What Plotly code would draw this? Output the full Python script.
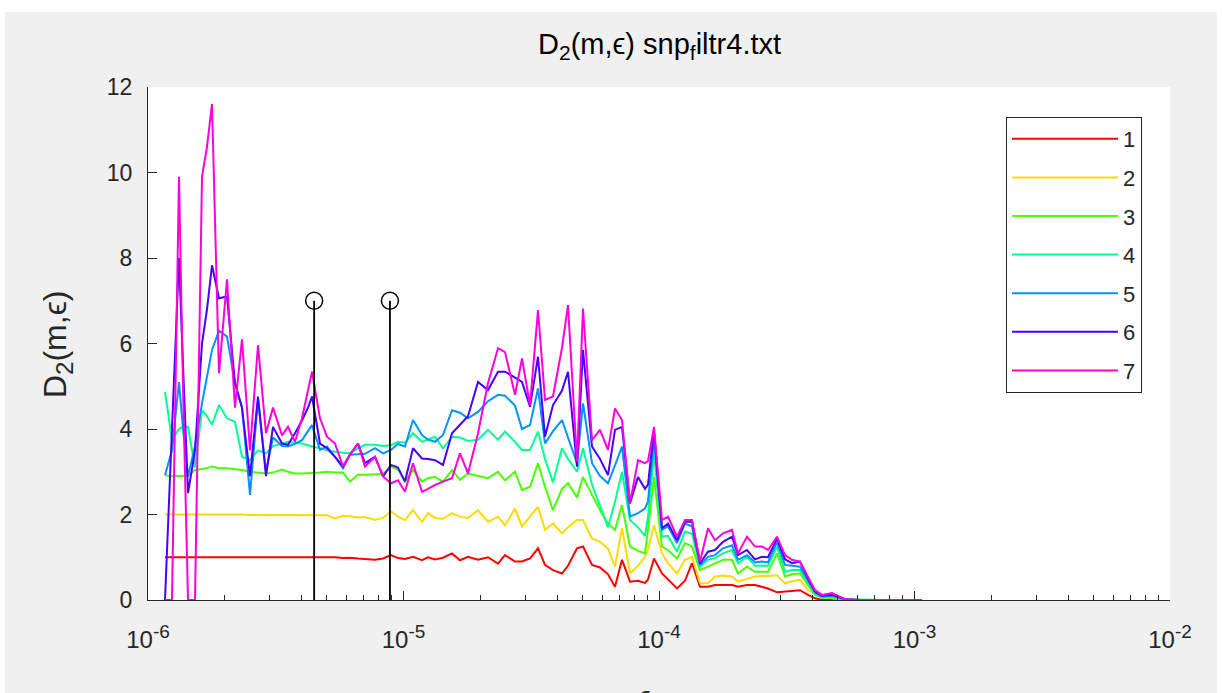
import plotly.graph_objects as go

# ---------------- data ----------------
log_eps = [-5.9335, -5.9061, -5.8787, -5.8630, -5.8434, -5.8160, -5.7886, -5.7691, -5.7495, -5.7221,
           -5.6908, -5.6595, -5.6321, -5.6008, -5.5695, -5.5382, -5.5108, -5.4755, -5.4521, -5.4247,
           -5.3973, -5.3738, -5.3581, -5.3268, -5.2994, -5.2681, -5.2368, -5.2094, -5.1781, -5.1507,
           -5.1115, -5.0802, -5.0489, -5.0215, -4.9941, -4.9628, -4.9276, -4.9041, -4.8767, -4.8454,
           -4.8102, -4.7789, -4.7476, -4.7084, -4.6693, -4.6301, -4.6027, -4.5636, -4.5362, -4.5049,
           -4.4736, -4.4462, -4.4149, -4.3796, -4.3562, -4.3209, -4.2975, -4.2622, -4.2309, -4.1996,
           -4.1722, -4.1448, -4.1135, -4.0822, -4.0548, -4.0431, -4.0196, -3.9883, -3.9648, -3.9295,
           -3.8982, -3.8708, -3.8395, -3.8082, -3.7808, -3.7495, -3.7143, -3.6908, -3.6556, -3.6243,
           -3.5969, -3.5734, -3.5382, -3.5068, -3.4795, -3.4481, -3.4168, -3.3894, -3.3620, -3.3229,
           -3.2720, -3.2133, -3.1350, -3.0568, -2.9706]
eps = [10 ** v for v in log_eps]

d1 = [1.0, 1.0, 1.0, 1.0, 1.0, 1.0, 1.0, 1.0, 1.0, 1.0,
      1.0, 1.0, 1.0, 1.0, 1.0, 0.99, 0.99, 1.0, 1.0, 1.0,
      1.0, 1.0, 1.0, 0.99, 1.0, 1.0, 0.98, 0.99, 0.97, 0.96,
      0.94, 0.97, 1.05, 0.98, 0.96, 1.01, 0.93, 1.0, 0.95, 0.99,
      1.09, 0.93, 1.01, 0.94, 1.0, 0.85, 1.05, 0.9, 0.9, 0.97,
      1.21, 0.82, 0.7, 0.62, 0.8, 1.21, 1.25, 0.82, 0.76, 0.6,
      0.31, 0.94, 0.43, 0.45, 0.4, 0.48, 0.97, 0.62, 0.47, 0.27,
      0.45, 0.86, 0.31, 0.31, 0.35, 0.35, 0.35, 0.31, 0.35, 0.35,
      0.3, 0.27, 0.18, 0.2, 0.22, 0.23, 0.12, 0.04, 0.0, 0.0,
      0, 0, 0, 0, 0]
d2 = [2.0, 2.0, 2.0, 2.0, 2.0, 2.0, 2.0, 2.0, 2.01, 2.0,
      2.0, 2.0, 2.0, 1.99, 1.99, 1.99, 1.99, 1.99, 1.99, 1.99,
      1.99, 1.99, 1.99, 1.99, 1.98, 1.91, 1.97, 1.96, 1.93, 1.94,
      1.87, 1.92, 2.07, 1.95, 1.87, 2.1, 1.83, 2.03, 1.92, 1.9,
      2.03, 1.95, 1.92, 2.1, 1.83, 1.95, 1.75, 2.14, 1.72, 1.95,
      2.18, 1.64, 1.79, 1.56, 1.7, 1.87, 1.87, 1.44, 1.36, 1.2,
      0.78, 1.68, 0.62, 0.8, 1.01, 1.17, 1.75, 1.09, 0.86, 0.62,
      0.94, 1.01, 0.39, 0.39, 0.55, 0.57, 0.55, 0.43, 0.5, 0.55,
      0.56, 0.56, 0.58, 0.39, 0.44, 0.47, 0.23, 0.15, 0.08, 0.04,
      0, 0, 0, 0, 0]
d3 = [2.92, 2.9, 2.9, 2.9, 2.9, 3.04, 3.06, 3.08, 3.12, 3.08,
      3.08, 3.06, 3.04, 3.0, 2.98, 2.96, 2.98, 3.05, 3.0, 2.96,
      2.96, 2.96, 2.97, 2.98, 3.0, 2.98, 2.98, 2.77, 2.93, 2.93,
      2.95, 2.95, 3.12, 3.05, 2.77, 3.04, 2.77, 2.85, 2.88, 2.77,
      3.04, 2.81, 2.96, 2.9, 2.85, 3.0, 2.8, 3.0, 2.57, 2.65,
      3.2, 2.65, 2.1, 2.6, 2.73, 2.4, 2.88, 2.46, 2.1, 1.79,
      1.64, 2.22, 1.25, 1.15, 1.09, 1.64, 2.88, 1.25, 1.17, 0.97,
      1.33, 1.25, 0.7, 0.78, 0.86, 0.94, 0.94, 0.62, 0.78, 0.66,
      0.66, 0.66, 1.09, 0.55, 0.6, 0.62, 0.35, 0.12, 0.05, 0.06,
      0.01, 0, 0, 0, 0]
d4 = [4.87, 3.74, 4.0, 4.05, 4.05, 3.1, 4.44, 4.3, 4.1, 4.56,
      4.25, 4.17, 3.35, 3.27, 3.5, 3.43, 3.6, 3.66, 3.7, 3.67,
      3.66, 3.62, 3.59, 3.55, 3.5, 3.47, 3.45, 3.43, 3.55, 3.63,
      3.63, 3.6, 3.62, 3.7, 3.68, 3.9, 3.7, 3.75, 3.82, 3.55,
      3.82, 3.8, 3.72, 3.75, 3.98, 3.75, 3.94, 3.7, 3.51, 3.51,
      3.94, 3.3, 2.75, 3.55, 3.3, 3.0, 3.55, 2.7, 2.2, 1.7,
      2.3, 3.0, 1.87, 1.7, 1.5, 1.95, 3.43, 1.48, 1.5, 1.13,
      1.6, 1.55, 0.78, 0.94, 0.98, 1.09, 1.17, 0.86, 1.01, 0.8,
      0.8, 0.8, 1.25, 0.66, 0.7, 0.7, 0.4, 0.15, 0.06, 0.08,
      0.01, 0, 0, 0, 0]
d5 = [2.92, 3.5, 5.1, 4.0, 2.9, 3.6, 4.6, 5.2, 5.85, 6.3,
      6.16, 5.07, 4.5, 2.46, 4.7, 3.0, 3.8, 3.6, 3.59, 3.65,
      3.74, 3.95, 4.09, 3.51, 3.59, 3.35, 3.08, 3.4, 3.42, 3.42,
      3.55, 3.43, 3.51, 3.65, 3.59, 4.21, 3.86, 3.75, 3.7, 3.86,
      4.44, 4.38, 4.25, 4.4, 4.65, 4.8, 4.78, 4.55, 4.0, 4.09,
      4.95, 3.66, 3.95, 4.21, 3.8, 3.2, 4.6, 3.2, 2.9, 2.73,
      3.15, 3.59, 1.95, 2.03, 2.14, 2.3, 3.74, 1.64, 1.72, 1.33,
      1.79, 1.72, 0.82, 1.01, 1.05, 1.21, 1.28, 0.94, 1.05, 0.88,
      0.9, 0.88, 1.36, 0.82, 0.8, 0.78, 0.45, 0.18, 0.08, 0.1,
      0.02, 0, 0, 0, 0]
d6 = [0, 4.0, 8.0, 5.5, 2.5, 3.5, 6.0, 6.8, 7.83, 7.06,
      7.1, 5.07, 4.5, 2.9, 4.76, 2.9, 4.05, 3.66, 3.63, 3.9,
      4.2, 4.5, 4.76, 3.66, 3.55, 3.35, 3.12, 3.4, 3.66, 3.2,
      3.35, 2.89, 3.16, 3.1, 2.77, 3.55, 3.31, 3.3, 3.27, 3.16,
      3.9, 4.1, 4.3, 5.1, 4.91, 5.34, 5.34, 5.2, 5.1, 4.52,
      5.69, 3.82, 4.56, 4.9, 5.34, 3.12, 5.85, 3.59, 3.3, 2.92,
      3.98, 4.05, 2.26, 2.88, 2.6, 2.7, 3.98, 1.68, 1.79, 1.4,
      1.83, 1.83, 0.86, 1.13, 1.17, 1.36, 1.48, 1.05, 1.17, 0.95,
      1.01, 1.0, 1.44, 0.95, 0.86, 0.9, 0.5, 0.2, 0.1, 0.12,
      0.02, 0, 0, 0, 0]
d7 = [0, 0, 9.9, 5.0, 0, 0, 9.9, 10.6, 11.6, 5.3,
      7.5, 4.5, 6.1, 3.5, 5.96, 3.9, 4.5, 3.85, 4.05, 3.7,
      4.25, 4.9, 5.34, 4.25, 3.82, 3.66, 3.12, 3.4, 3.66, 3.12,
      3.35, 2.89, 2.73, 2.8, 2.53, 3.2, 2.53, 2.6, 2.69, 2.77,
      2.85, 3.43, 2.96, 3.9, 5.07, 5.89, 5.8, 4.8, 5.65, 4.56,
      6.78, 4.68, 4.76, 5.9, 6.9, 3.24, 6.82, 3.74, 3.98, 3.51,
      4.48, 4.21, 2.26, 3.27, 3.2, 3.25, 4.05, 1.87, 1.95, 1.48,
      1.87, 1.87, 0.9, 1.68, 1.4, 1.56, 1.64, 1.09, 1.48, 1.25,
      1.25, 1.17, 1.48, 1.05, 0.94, 0.9, 0.55, 0.23, 0.12, 0.16,
      0.02, 0, 0, 0, 0]

series_names = ["1", "2", "3", "4", "5", "6", "7"]
series_values = [d1, d2, d3, d4, d5, d6, d7]
series_colors = ["#ff0000", "#ffdb00", "#49ff00", "#00ff92", "#0092ff", "#4900ff", "#ff00db"]

stem_eps = [4.47e-6, 8.85e-6]
stem_height = 7

x_tickvals = [1e-6, 1e-5, 1e-4, 1e-3, 1e-2]
x_exponents = ["-6", "-5", "-4", "-3", "-2"]
y_tickvals = [0, 2, 4, 6, 8, 10, 12]

# ---------------- figure ----------------
W, H = 1222, 693
ML, MR, MT, MB = 148, 52, 87, 93
PW, PH = W - ML - MR, H - MT - MB
FONT = "Liberation Sans, Arial, Helvetica, sans-serif"
AX = "#262626"


def px_x(px):
    return (px - ML) / PW


def px_y(py):
    return (H - MB - py) / PH


def sup(t, size):
    return "<sup><span style='font-size:%dpx'>%s</span></sup>" % (size, t)


def sub(t, size):
    return "<sub><span style='font-size:%dpx'>%s</span></sub>" % (size, t)


x_ticktext = ["10" + sup(e, 19) for e in x_exponents]

fig = go.Figure()
for name, vals, col in zip(series_names, series_values, series_colors):
    fig.add_trace(go.Scatter(x=eps, y=vals, mode="lines", name=name, legendgroup=name,
                             line=dict(color=col, width=2)))

for xs in stem_eps:
    fig.add_trace(go.Scatter(x=[xs, xs], y=[0, stem_height], mode="lines", showlegend=False,
                             line=dict(color="black", width=1.8), hoverinfo="skip"))
    fig.add_trace(go.Scatter(x=[xs], y=[stem_height], mode="markers", showlegend=False,
                             marker=dict(symbol="circle-open", size=17, color="black",
                                         line=dict(width=1.5, color="black"))))

minor_vals = [m * 10 ** e for e in range(-6, -2) for m in range(2, 10)]

axis_common = dict(showline=True, linecolor=AX, linewidth=1, mirror=False, showgrid=False,
                   zeroline=False, ticks="inside", ticklen=9, tickwidth=1, tickcolor=AX)

fig.update_layout(
    width=W, height=H, autosize=False,
    margin=dict(l=ML, r=MR, t=MT, b=MB, pad=0),
    paper_bgcolor="white", plot_bgcolor="white",
    font=dict(family=FONT, color=AX),
    xaxis=dict(type="log", range=[-6, -2], tickmode="array", tickvals=x_tickvals,
               ticktext=x_ticktext, ticklabelstandoff=18,
               tickfont=dict(family=FONT, size=24, color=AX),
               minor=dict(ticks="inside", ticklen=5, tickcolor=AX, tickwidth=1,
                          tickmode="array", tickvals=minor_vals, showgrid=False),
               **axis_common),
    yaxis=dict(range=[0, 12], tickmode="array", tickvals=y_tickvals, ticklabelstandoff=10,
               tickfont=dict(family=FONT, size=23, color=AX),
               **axis_common),
    legend=dict(x=px_x(1006), y=px_y(117), xanchor="left", yanchor="top",
                bgcolor="white", bordercolor=AX, borderwidth=1,
                font=dict(family=FONT, size=22, color=AX),
                itemwidth=106, tracegroupgap=7, traceorder="grouped"),
    showlegend=True,
    shapes=[
        dict(type="rect", xref="paper", yref="paper", layer="below",
             x0=px_x(5), x1=px_x(1217), y0=px_y(700), y1=px_y(12),
             fillcolor="#f0f0f0", line=dict(width=0)),
        dict(type="rect", xref="paper", yref="paper", layer="below",
             x0=0, x1=1, y0=0, y1=1, fillcolor="white", line=dict(width=0)),
    ],
    annotations=[
        dict(text="D" + sub("2", 21) + "(m,\u03f5) snp" + sub("f", 21) + "iltr4.txt",
             xref="paper", yref="paper",
             x=0.5, y=px_y(46), xanchor="center", yanchor="middle", showarrow=False,
             font=dict(family=FONT, size=29, color="black")),
        dict(text="D" + sub("2", 24) + "(m,\u03f5)", xref="paper", yref="paper",
             x=px_x(57), y=px_y(345), xanchor="center", yanchor="middle", textangle=-90,
             showarrow=False, font=dict(family=FONT, size=32, color=AX)),
        dict(text="\u03f5", xref="paper", yref="paper",
             x=px_x(645), y=px_y(679), xanchor="center", yanchor="top",
             showarrow=False, font=dict(family=FONT, size=26, color=AX)),
    ],
)

fig.write_html("out.html")
